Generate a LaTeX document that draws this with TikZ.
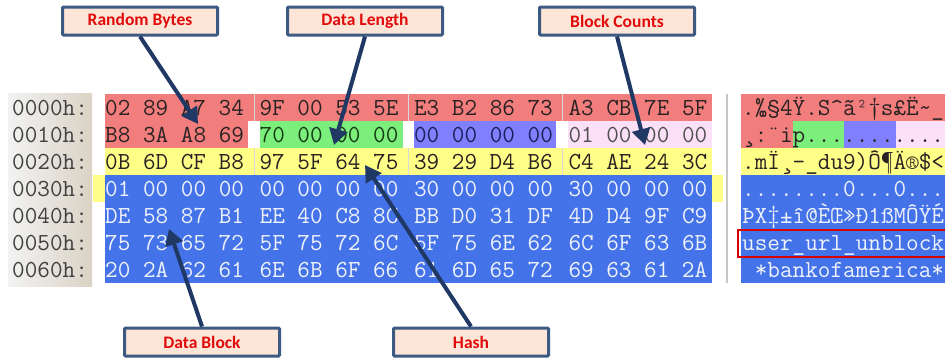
\documentclass[tikz,border=0pt]{standalone}
\usepackage{fontspec}
\setmonofont{Latin Modern Mono}
\newfontfamily\labfont{Carlito}
\usetikzlibrary{arrows.meta}
\definecolor{cred}{HTML}{F27D7D}
\definecolor{cgreen}{HTML}{7CEE7C}
\definecolor{cpurple}{HTML}{8080FF}
\definecolor{cpink}{HTML}{FCE0F8}
\definecolor{cyellow}{HTML}{FFFF88}
\definecolor{cblue}{HTML}{4472E8}
\definecolor{darktxt}{HTML}{2A2222}
\definecolor{lighttxt}{HTML}{EEF2FA}
\definecolor{addrtxt}{HTML}{404040}
\definecolor{boxfill}{HTML}{FDE6D8}
\definecolor{boxline}{HTML}{3C5A82}
\definecolor{arrcol}{HTML}{1F3864}
\definecolor{labred}{HTML}{E00A0A}
\begin{document}
\begin{tikzpicture}[x=1pt,y=-1pt,
  mono/.style={anchor=base west, inner sep=0pt, font=\ttfamily\fontsize{24.5}{25}\selectfont},
  lbl/.style={draw=boxline, line width=3pt, fill=boxfill, rounded corners=1pt,
    minimum width=155pt, minimum height=28pt, inner sep=0pt,
    font=\labfont\bfseries\fontsize{17.5}{18}\selectfont, text=labred},
  arr/.style={draw=arrcol, line width=4pt, -{Triangle[length=16pt,width=18pt]}}]
\useasboundingbox (0,0) rectangle (945,360);
\clip (0,0) rectangle (945,360);
\fill[white] (0,0) rectangle (945,360);
% address column
\shade[left color=white!90!gray, right color={rgb,255:red,218;green,211;blue,197}] (8,93) rectangle (92,286);
% hex area backgrounds
\fill[cred] (105,94) rectangle (712,121);
\fill[cred] (105,121) rectangle (248,148);
\fill[cgreen] (260,121) rectangle (403,148);
\fill[cpurple] (414,121) rectangle (556,148);
\fill[cpink] (568,121) rectangle (712,148);
\fill[cyellow] (105,148) rectangle (712,175);
\fill[cyellow] (93,175) rectangle (105,202);
\fill[cyellow] (712,175) rectangle (723,202);
\fill[cblue] (105,175) rectangle (712,283);
\foreach \sx in {254,408,562} \draw[white!70!gray, line width=0.8pt] (\sx,94) -- (\sx,121) (\sx,148) -- (\sx,175);
% separator
\draw[gray!45, line width=2.5pt] (727,94) -- (727,283);
% text panel backgrounds
\fill[cred] (741,94) rectangle (945,121);
\fill[cred] (741,121) rectangle (793,148);
\fill[cgreen] (793,121) rectangle (844,148);
\fill[cpurple] (844,121) rectangle (896,148);
\fill[cpink] (896,121) rectangle (945,148);
\fill[cyellow] (741,148) rectangle (945,175);
\fill[cblue] (741,175) rectangle (945,283);
% addresses
\foreach \r/\ad in {0/0000h:,1/0010h:,2/0020h:,3/0030h:,4/0040h:,5/0050h:,6/0060h:}
  \node[mono, text=addrtxt] (ad\r) at (12,115+27*\r) {\ad};
% hex rows
\foreach \r/\ga/\gb/\gc/\gd/\col in {
  0/02 89 A7 34/9F 00 53 5E/E3 B2 86 73/A3 CB 7E 5F/darktxt,
  2/0B 6D CF B8/97 5F 64 75/39 29 D4 B6/C4 AE 24 3C/darktxt,
  3/01 00 00 00/00 00 00 00/30 00 00 00/30 00 00 00/lighttxt,
  4/DE 58 87 B1/EE 40 C8 8C/BB D0 31 DF/4D D4 9F C9/lighttxt,
  5/75 73 65 72/5F 75 72 6C/5F 75 6E 62/6C 6F 63 6B/lighttxt,
  6/20 2A 62 61/6E 6B 6F 66/61 6D 65 72/69 63 61 2A/lighttxt} {
  \node[mono, text=\col] (h\r a) at (105,115+27*\r) {\ga};
  \node[mono, text=\col] (h\r b) at (259.44,115+27*\r) {\gb};
  \node[mono, text=\col] (h\r c) at (413.88,115+27*\r) {\gc};
  \node[mono, text=\col] (h\r d) at (568.32,115+27*\r) {\gd};
}
\node[mono, text=darktxt] (h1a) at (105,142) {B8 3A A8 69};
\node[mono, text={rgb,255:red,20;green,60;blue,20}] (h1b) at (259.44,142) {70 00 00 00};
\node[mono, text={rgb,255:red,30;green,30;blue,90}] (h1c) at (413.88,142) {00 00 00 00};
\node[mono, text={rgb,255:red,80;green,80;blue,80}] (h1d) at (568.32,142) {01 00 00 00};
% text panel
\node[mono, text=darktxt] (t0) at (742,115) {.‰§4Ÿ.S\textasciicircum ã²†s£Ë\textasciitilde\_};
\node[mono, text=darktxt] (t1) at (742,142) {¸:¨ip...........};
\node[mono, text=darktxt] (t2) at (742,169) {.mÏ¸—\_du9)Ô¶Ä®\$<};
\node[mono, text=lighttxt] (t3) at (742,196) {........0...0...};
\node[mono, text=lighttxt] (t4) at (742,223) {ÞX‡±î@ÈŒ»Ð1ßMÔŸÉ};
\node[mono, text=lighttxt] (t5) at (742,250) {user\_url\_unblock};
\node[mono, text=lighttxt] (t6) at (742,277) {\ *bankofamerica*};
\draw[red!85!black, line width=2.5pt] (738,230) rectangle (950,257);
% labels
\node[lbl] (rb) at (140,21) {Random Bytes};
\node[lbl] (dl) at (365,21) {Data Length};
\node[lbl] (bc) at (617,21) {Block Counts};
\node[lbl] (db) at (202,342) {Data Block};
\node[lbl] (hs) at (471,342) {Hash};
% arrow tips
\coordinate (trb) at (198,124);
\coordinate (tdl) at (334,145);
\coordinate (tbc) at (645,145);
\coordinate (tdb) at (169,229);
\coordinate (ths) at (365,165);
\draw[arr] (rb.south) -- (trb);
\draw[arr] (dl.south) -- (tdl);
\draw[arr] (bc.south) -- (tbc);
\draw[arr] (db.north) -- (tdb);
\draw[arr] (hs.north) -- (ths);
\end{tikzpicture}
\end{document}
